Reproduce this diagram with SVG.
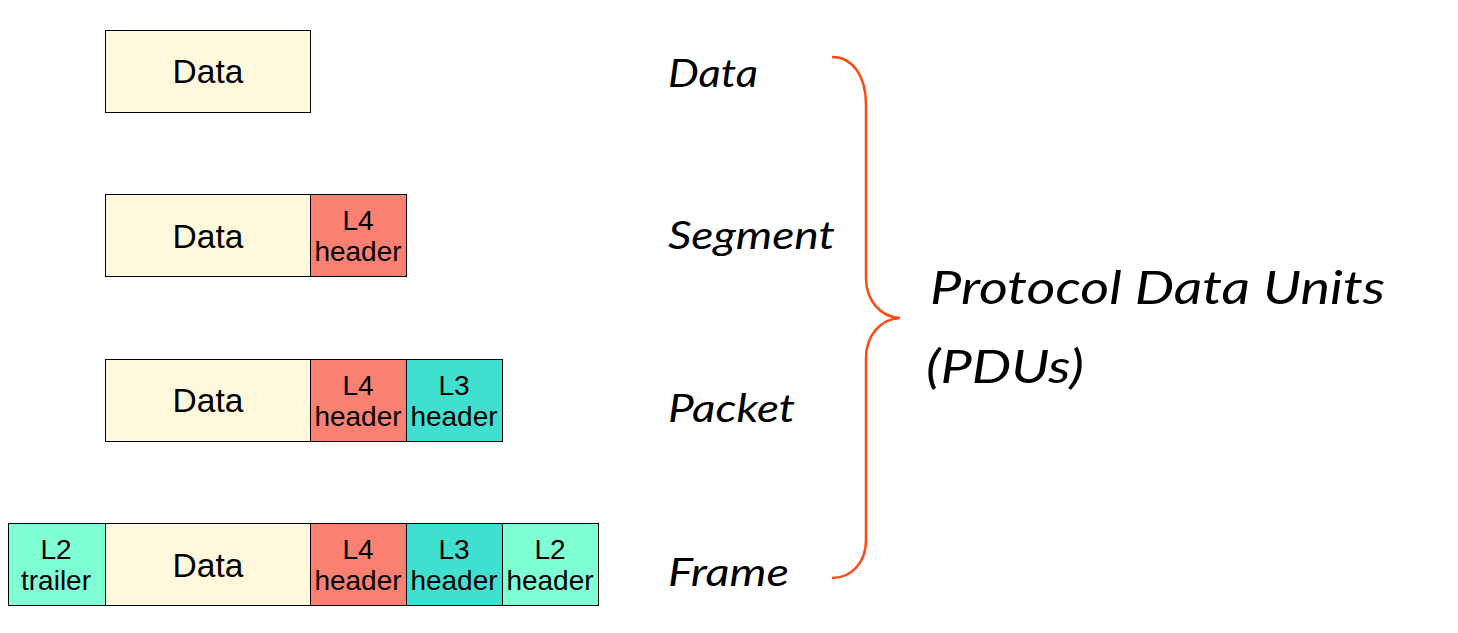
<svg xmlns="http://www.w3.org/2000/svg" width="1458" height="633" viewBox="0 0 1458 633">
<style>
rect{stroke:#000;stroke-width:1}
.d{fill:#FFF8DC}.l4{fill:#FA8072}.l3{fill:#40E0D0}.l2{fill:#7FFFD4}
.t{font-family:"Liberation Sans",Arial,sans-serif;fill:#000;text-anchor:middle}
.big{font-size:33.5px}.sm{font-size:28px}
.h{font-family:"Segoe Print","Lato","Open Sans",sans-serif;font-style:italic;fill:#000;font-size:38px}
.brace{fill:none;stroke:#FF4A12;stroke-width:2.5}
</style>
<rect width="1458" height="633" fill="#fff" style="stroke:none"/>
<g id="row-data">
<rect class="d" x="105.5" y="30.5" width="205" height="82"/>
<text class="t big" x="208" y="83">Data</text>
</g>
<g id="row-segment">
<rect class="d" x="105.5" y="194.5" width="205" height="82"/>
<text class="t big" x="208" y="248">Data</text>
<rect class="l4" x="310.5" y="194.5" width="96" height="82"/>
<text class="t sm" x="358" y="230">L4</text>
<text class="t sm" x="358" y="261">header</text>
</g>
<g id="row-packet">
<rect class="d" x="105.5" y="359.5" width="205" height="82"/>
<text class="t big" x="208" y="412">Data</text>
<rect class="l4" x="310.5" y="359.5" width="96" height="82"/>
<text class="t sm" x="358" y="395">L4</text>
<text class="t sm" x="358" y="426">header</text>
<rect class="l3" x="406.5" y="359.5" width="96" height="82"/>
<text class="t sm" x="454" y="395">L3</text>
<text class="t sm" x="454" y="426">header</text>
</g>
<g id="row-frame">
<rect class="l2" x="8.5" y="523.5" width="97" height="82"/>
<text class="t sm" x="56" y="559">L2</text>
<text class="t sm" x="56" y="590">trailer</text>
<rect class="d" x="105.5" y="523.5" width="205" height="82"/>
<text class="t big" x="208" y="577">Data</text>
<rect class="l4" x="310.5" y="523.5" width="96" height="82"/>
<text class="t sm" x="358" y="559">L4</text>
<text class="t sm" x="358" y="590">header</text>
<rect class="l3" x="406.5" y="523.5" width="96" height="82"/>
<text class="t sm" x="454" y="559">L3</text>
<text class="t sm" x="454" y="590">header</text>
<rect class="l2" x="502.5" y="523.5" width="96" height="82"/>
<text class="t sm" x="550" y="559">L2</text>
<text class="t sm" x="550" y="590">header</text>
</g>
<g id="labels">
<text class="h" x="668" y="87" textLength="90" lengthAdjust="spacingAndGlyphs">Data</text>
<text class="h" x="668" y="249" textLength="167" lengthAdjust="spacingAndGlyphs">Segment</text>
<text class="h" x="668" y="422" textLength="127" lengthAdjust="spacingAndGlyphs">Packet</text>
<text class="h" x="668" y="586" textLength="121" lengthAdjust="spacingAndGlyphs">Frame</text>
<text class="h" x="930" y="304" style="font-size:46px" textLength="455" lengthAdjust="spacingAndGlyphs">Protocol Data Units</text>
<text class="h" x="926" y="383" style="font-size:46px" textLength="158" lengthAdjust="spacingAndGlyphs">(PDUs)</text>
</g>
<g id="connectors">
<path class="brace" d="M832,57 C852,57 866,75 866,105 L866,278 C866,300 880,317 900,318 C880,319 866,336 866,358 L866,540 C866,562 852,578 832,578"/>
</g>
</svg>
